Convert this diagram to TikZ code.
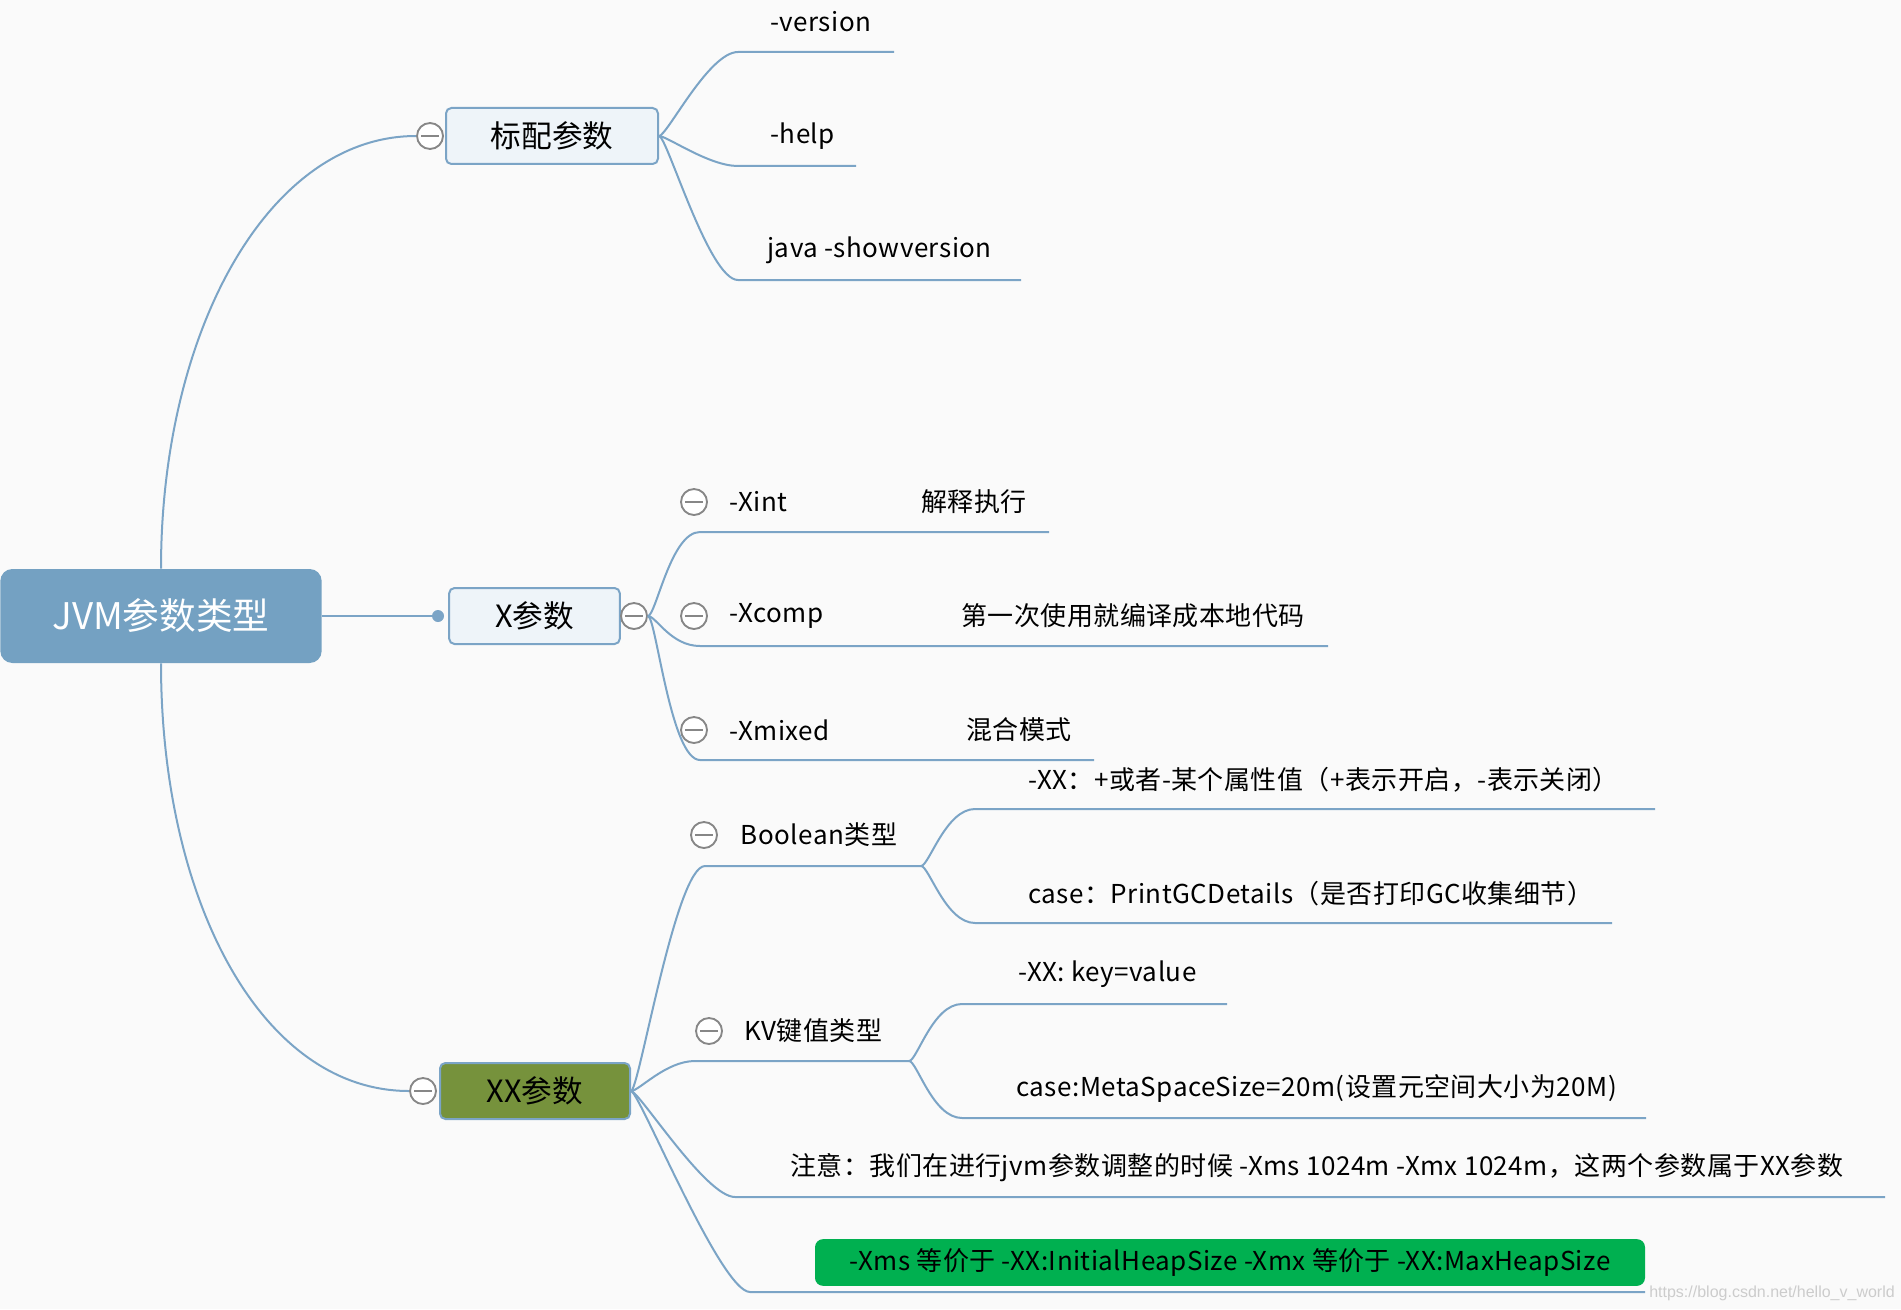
\documentclass[tikz,border=0pt]{standalone}
\usepackage{fontspec}
\setmainfont{Noto Sans CJK SC}
\newfontfamily\leaffont[LetterSpace=1.8]{Noto Sans CJK SC}
\newfontfamily\markfont{Liberation Sans}
\usetikzlibrary{positioning}

\definecolor{branchblue}{RGB}{123,164,198}
\definecolor{rootblue}{RGB}{116,161,194}
\definecolor{topicfill}{RGB}{238,244,249}
\definecolor{xxolive}{RGB}{118,146,60}
\definecolor{notegreen}{RGB}{0,176,80}
\definecolor{foldgray}{RGB}{135,135,135}
\definecolor{paper}{RGB}{250,250,250}

\begin{document}
\begin{tikzpicture}[
    x=0.75pt, y=-0.75pt,
    branch/.style={draw=branchblue, line width=1.5pt},
    twig/.style={out=0, in=180, out distance=6pt, in distance=22pt},
    topic/.style={draw=branchblue, line width=1.5pt, rounded corners=4pt, fill=topicfill,
        inner sep=0pt, minimum height=42pt, font=\fontsize{23}{26}\selectfont},
    fold/.style={circle, draw=foldgray, fill=white, line width=1.4pt, minimum size=19.5pt, inner sep=0pt,
        path picture={\draw[foldgray, line width=1.4pt]
            ([xshift=-6.5pt]path picture bounding box.center) -- ([xshift=6.5pt]path picture bounding box.center);}},
    leaf/.style={anchor=west, inner sep=0pt, font=\leaffont\fontsize{19.5}{22}\selectfont},
    node distance=16pt
]
    \useasboundingbox (0,0) rectangle (1901,1309);
    \fill[paper] (0,0) rectangle (1901,1309);

    % --- CENTRAL TOPIC ---
    \node[fill=rootblue, rounded corners=9pt, minimum width=241pt, minimum height=70.5pt, inner sep=0pt,
        text=white, font=\fontsize{27.5}{32}\selectfont] (jvm) at (161,616) {JVM参数类型};

    % --- MAIN TOPICS ---
    \node[topic, minimum width=159pt] (biaopei) at (552,136) {标配参数};
    \node[fold] (biaopei-fold) at (430,136) {};
    \node[topic, minimum width=128pt] (xparam) at (534.5,616) {X参数};
    \node[fold] (xparam-fold) at (634,616) {};
    \node[circle, fill=branchblue, inner sep=0pt, minimum size=9pt] (xparam-dot) at (438,616) {};
    \node[topic, minimum width=142.5pt, fill=xxolive] (xxparam) at (535,1091) {XX参数};
    \node[fold] (xxparam-fold) at (423,1091) {};

    \draw[branch] (jvm.north) .. controls +(0,-237) and +(-148,0) .. (biaopei-fold.west);
    \draw[branch] (jvm.south) .. controls +(0,237) and +(-148,0) .. (xxparam-fold.west);
    \draw[branch] (jvm.east) -- (xparam-dot);

    % --- 标配参数 ---
    \node[leaf] (ver) at (770,22) {-version};
    \node[leaf] (help) at (770,136) {-help};
    \node[leaf] (showver) at (767,250) {java -showversion};
    \coordinate (ver-s) at (738,52);     \coordinate (ver-e) at (894,52);
    \coordinate (help-s) at (738,166);   \coordinate (help-e) at (856,166);
    \coordinate (showver-s) at (738,280); \coordinate (showver-e) at (1021,280);
    \draw[branch] (biaopei.east) to[twig] (ver-s) -- (ver-e);
    \draw[branch] (biaopei.east) to[twig] (help-s) -- (help-e);
    \draw[branch] (biaopei.east) to[twig] (showver-s) -- (showver-e);

    % --- X参数 ---
    \node[fold] (xint-fold) at (694,502) {};
    \node[leaf, right=of xint-fold] (xint) {-Xint};
    \node[leaf] (xint-desc) at (921,502) {解释执行};
    \node[fold] (xcomp-fold) at (694,616) {};
    \node[leaf, right=of xcomp-fold] (xcomp) {-Xcomp};
    \node[leaf] (xcomp-desc) at (961,616) {第一次使用就编译成本地代码};
    \node[fold] (xmixed-fold) at (694,730) {};
    \node[leaf, right=of xmixed-fold] (xmixed) {-Xmixed};
    \node[leaf] (xmixed-desc) at (966,730) {混合模式};
    \coordinate (xint-s) at (700,532);   \coordinate (xint-e) at (1049,532);
    \coordinate (xcomp-s) at (700,646);  \coordinate (xcomp-e) at (1328,646);
    \coordinate (xmixed-s) at (700,760); \coordinate (xmixed-e) at (1094,760);
    \draw[branch] (xparam-fold.east) to[twig] (xint-s) -- (xint-e);
    \draw[branch] (xparam-fold.east) to[twig] (xcomp-s) -- (xcomp-e);
    \draw[branch] (xparam-fold.east) to[twig] (xmixed-s) -- (xmixed-e);

    % --- XX参数 ---
    \node[fold] (bool-fold) at (704,835) {};
    \node[leaf, right=17pt of bool-fold] (bool) {Boolean类型};
    \node[fold] (kv-fold) at (709,1031) {};
    \node[leaf, right=of kv-fold] (kv) {KV键值类型};
    \node[leaf] (note) at (790,1168) {注意：我们在进行jvm参数调整的时候 -Xms 1024m -Xmx 1024m，这两个参数属于XX参数};
    \node[fill=notegreen, rounded corners=6pt, minimum width=622.5pt, minimum height=35pt, inner sep=0pt,
        font=\leaffont\fontsize{19.5}{22}\selectfont] (heap) at (1230,1262.5)
        {-Xms 等价于 -XX:InitialHeapSize -Xmx 等价于 -XX:MaxHeapSize};
    \coordinate (bool-s) at (705,866);  \coordinate (bool-e) at (921,866);
    \coordinate (kv-s) at (695,1061);   \coordinate (kv-e) at (909,1061);
    \coordinate (note-s) at (735,1197); \coordinate (note-e) at (1885,1197);
    \coordinate (heap-s) at (750,1292); \coordinate (heap-e) at (1645,1292);
    \draw[branch] (xxparam.east) to[twig] (bool-s) -- (bool-e);
    \draw[branch] (xxparam.east) to[twig] (kv-s) -- (kv-e);
    \draw[branch] (xxparam.east) to[twig] (note-s) -- (note-e);
    \draw[branch] (xxparam.east) to[twig] (heap-s) -- (heap-e);

    % Boolean / KV details
    \node[leaf] (bool-on) at (1028,780) {-XX：+或者-某个属性值（+表示开启，-表示关闭）};
    \node[leaf] (bool-case) at (1028,894) {case：PrintGCDetails（是否打印GC收集细节）};
    \node[leaf] (kv-key) at (1018,974) {-XX: key=value};
    \node[leaf] (kv-case) at (1016,1088) {case:MetaSpaceSize=20m(设置元空间大小为20M)};
    \coordinate (bool-on-s) at (975,809);   \coordinate (bool-on-e) at (1655,809);
    \coordinate (bool-case-s) at (975,923); \coordinate (bool-case-e) at (1612,923);
    \coordinate (kv-key-s) at (962,1004);   \coordinate (kv-key-e) at (1227,1004);
    \coordinate (kv-case-s) at (962,1118);  \coordinate (kv-case-e) at (1646,1118);
    \draw[branch] (bool-e) to[twig] (bool-on-s) -- (bool-on-e);
    \draw[branch] (bool-e) to[twig] (bool-case-s) -- (bool-case-e);
    \draw[branch] (kv-e) to[twig] (kv-key-s) -- (kv-key-e);
    \draw[branch] (kv-e) to[twig] (kv-case-s) -- (kv-case-e);

    \node[anchor=west, inner sep=0pt, text=black!20, font=\markfont\fontsize{12}{14}\selectfont] (mark)
        at (1649,1293) {https://blog.csdn.net/hello\_v\_world};
\end{tikzpicture}
\end{document}
